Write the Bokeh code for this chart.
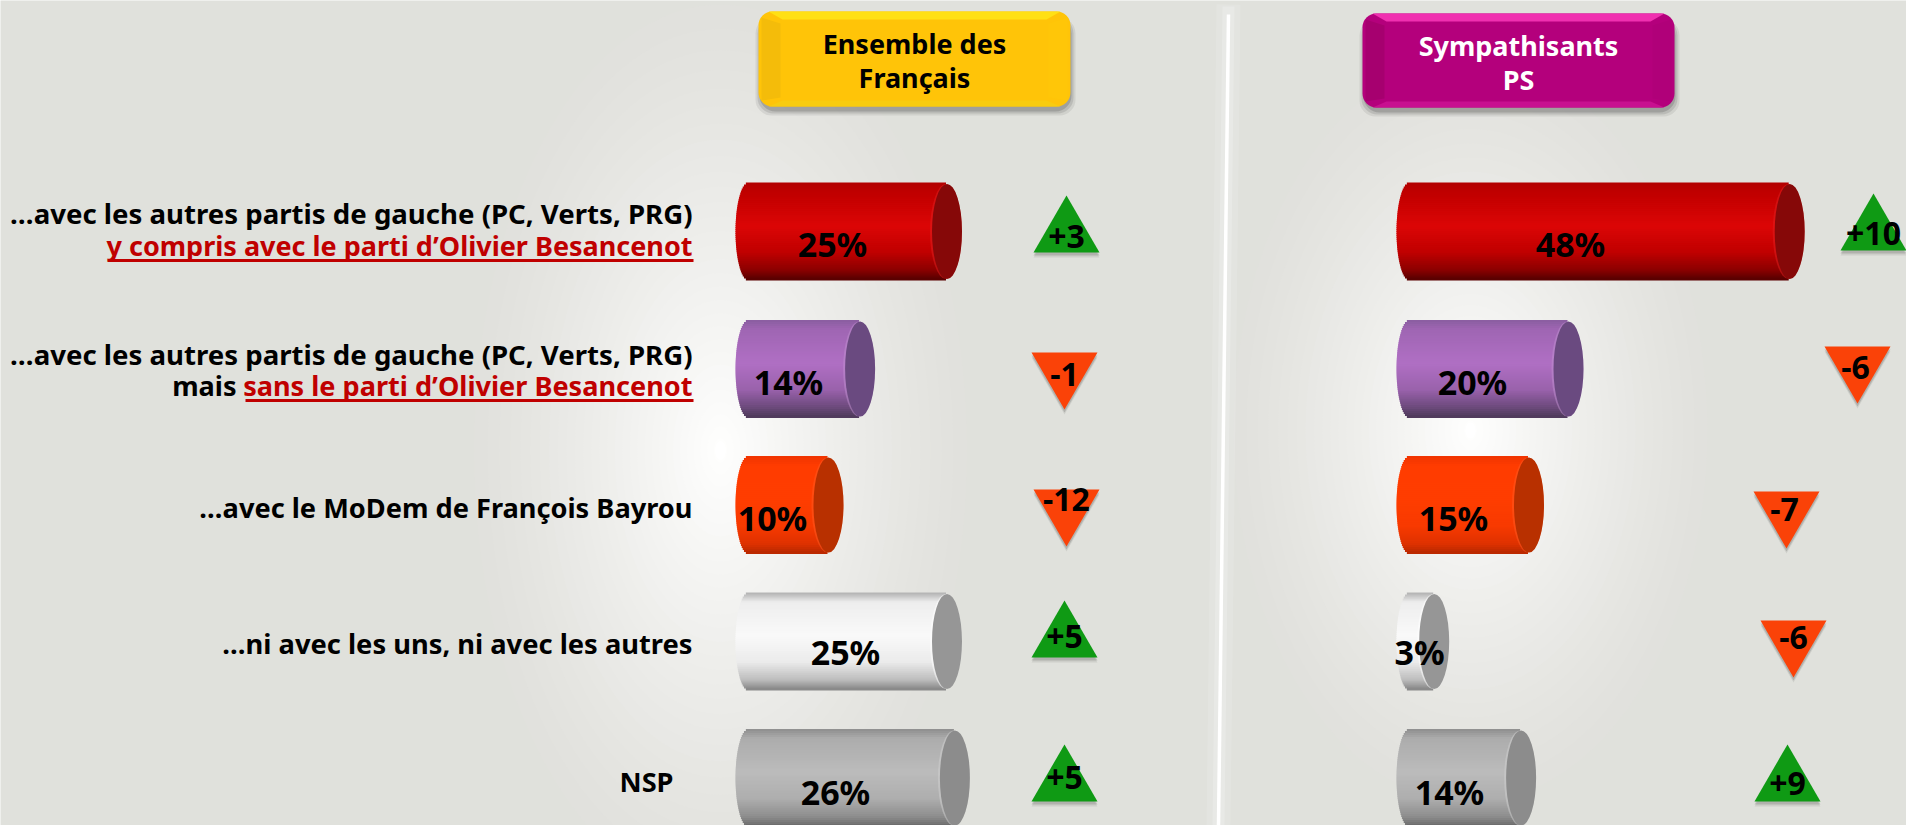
import numpy as np
from bokeh.plotting import figure
from bokeh.models import Range1d, ColumnDataSource
from bokeh.core.properties import value
from bokeh.embed import file_html
from bokeh.resources import INLINE

# ---- data
panels = ["Ensemble des Français", "Sympathisants PS"]
ensemble = [25, 14, 10, 25, 26]
sympathisants = [48, 20, 15, 3, 14]
delta_ensemble = [3, -1, -12, 5, 5]
delta_sympathisants = [10, -6, -7, -6, 9]

# ---- layout (px)
W, H = 1906, 825
K = 7.9
ORIGIN = [748, 1409]
ROW_Y = [231, 368.5, 504.5, 641, 777.5]
BAR_H = 97
LBL_X = [[832, 788, 772, 845, 835], [1570, 1472, 1453, 1419, 1449]]
LBL_Y = [243, 381, 517, 651, 791]
TRI_X = [[1066, 1064, 1066, 1064, 1064], [1873, 1857, 1786, 1793, 1787]]
TRI_Y = [[233, 371, 508, 638, 782], [231, 365, 510, 639, 782]]
DEL_X = [[1066, 1064, 1066, 1064, 1064], [1873, 1855, 1784, 1793, 1787]]
DEL_Y = [[236, 374, 499, 636, 777], [233, 367, 509, 637, 783]]
TRI_SIZE = 66

PAL = [
    (["#b20000", "#c00000", "#dc0606", "#c00000", "#8c0000", "#560000"], "#860808", "#e02020"),
    (["#8a5ea0", "#a066b4", "#b070c4", "#9a62ac", "#6c4a7c", "#4e3a5a"], "#6a4a80", "#c090d0"),
    (["#f03400", "#ff3c00", "#ff3e00", "#f83a00", "#e03200", "#b82800"], "#b83000", "#ff5a20"),
    (["#b0b0b0", "#eeeeee", "#fafafa", "#ebebeb", "#bdbdbd", "#858585"], "#969696", "#ffffff"),
    (["#8e8e8e", "#adadad", "#bcbcbc", "#aeaeae", "#8e8e8e", "#6a6a6a"], "#8c8c8c", "#d0d0d0"),
]
STOPS = [0, 0.1, 0.45, 0.72, 0.9, 1]

p = figure(width=W, height=H, output_backend="svg", toolbar_location=None,
           x_range=Range1d(0, W), y_range=Range1d(H, 0),
           x_axis_location=None, y_axis_location=None, min_border=0,
           outline_line_color=None, background_fill_color="#e0e1dc",
           border_fill_color="#e0e1dc")
p.grid.visible = False
for i, o in enumerate(ORIGIN):
    p.extra_x_ranges[f"pct{i}"] = Range1d(-o / K, (W - o) / K)

# ---- background glow: nested opaque ellipses, one grey level apart
GLOW_STEPS = 31
for cx, cy, sx, sy in [(720, 450, 265, 480), (1470, 430, 255, 400)]:
    for i in range(1, GLOW_STEPS + 1):
        f = i / GLOW_STEPS
        s = 1 - f ** (1 / 1.3)
        if s <= 0:
            s = 0.02
        col = "#%02x%02x%02x" % (int(224 + 31 * f), int(225 + 30 * f), int(220 + 35 * f))
        p.ellipse(x=[cx], y=[cy], width=[2 * sx * s], height=[2 * sy * s],
                  fill_color=col, line_color=None)

# ---- divider
p.line([1228, 1218], [4, H], line_color="#ffffff", line_width=24, line_alpha=0.12)
p.line([1228, 1218], [6, H], line_color="#ffffff", line_width=12, line_alpha=0.2)
p.line([1228, 1218], [14, H], line_color="#ffffff", line_width=3.5)

# ---- header buttons


def button(l, r, t, b, top_c, bot_c, left_c, right_c, face, txt, txtc):
    for grow, alpha in [(4, 0.07), (2, 0.1), (0, 0.14)]:
        p.quad(left=l + 1 - grow, right=r + 1 + grow, top=t + 6, bottom=b + 5 + grow,
               fill_color="#000000", fill_alpha=alpha, line_color=None, border_radius=16)
    p.quad(left=l, right=r, top=t, bottom=b, fill_color=face, line_color=None, border_radius=14)
    p.patch([l + 22, l + 3, l + 3, l + 22], [t + 12, t + 6, b - 6, b - 9], fill_color=left_c, line_color=None)
    p.patch([r - 22, r - 3, r - 3, r - 22], [t + 12, t + 6, b - 6, b - 9], fill_color=right_c, line_color=None)
    p.patch([l + 10, r - 10, r - 24, l + 24], [t, t, t + 8, t + 8], fill_color=top_c, line_color=None)
    p.patch([l + 10, r - 10, r - 24, l + 24], [b, b, b - 6, b - 6], fill_color=bot_c, line_color=None)
    p.text(x=[(l + r) / 2] * 2, y=[t + 32, t + 66], text=txt, text_color=txtc,
           text_font=value("Noto Sans"), text_font_style="bold", text_font_size="27px",
           text_align="center", text_baseline="middle")


button(758, 1070, 11, 106, "#ffe014", "#f8cc10", "#f4bc0a", "#ffc608", "#ffc408",
       ["Ensemble des", "Français"], "#000000")
button(1362, 1674, 13, 107, "#f030b0", "#c81090", "#a6006f", "#b00079", "#b4007c",
       ["Sympathisants", "PS"], "#ffffff")

# ---- cylinders


def rgb(h):
    return np.array([int(h[i:i + 2], 16) for i in (1, 3, 5)], dtype=float)


N = 48
for pi, vals in enumerate([ensemble, sympathisants]):
    rng = f"pct{pi}"
    ys, lefts, rights, cols = [], [], [], []
    cap_x, cap_y, cap_c, rim_c = [], [], [], []
    for r, v in enumerate(vals):
        stops, cap, rim = PAL[r]
        arr = np.array([rgb(s) for s in stops])
        for n in range(N):
            u = (n + 0.5) / N
            t = 2 * u - 1
            c = [np.interp(u, STOPS, arr[:, k]) for k in range(3)]
            cols.append("#%02x%02x%02x" % tuple(int(x) for x in c))
            ys.append(ROW_Y[r] - BAR_H / 2 + u * BAR_H)
            lefts.append((-13 + 13 * (1 - np.sqrt(1 - t * t))) / K)
            rights.append(v)
        cap_x.append(v); cap_y.append(ROW_Y[r]); cap_c.append(cap); rim_c.append(rim)
    src = ColumnDataSource(dict(y=ys, left=lefts, right=rights, color=cols))
    p.hbar(y="y", left="left", right="right", height=BAR_H / N + 1, source=src,
           fill_color="color", line_color=None, x_range_name=rng)
    capsrc = ColumnDataSource(dict(x=cap_x, y=cap_y, c=cap_c, rim=rim_c))
    p.ellipse(x="x", y="y", width=32, height=BAR_H - 2, width_units="screen",
              height_units="screen", fill_color="rim", fill_alpha=0.5, line_color=None,
              source=capsrc, x_range_name=rng)
    capsrc2 = ColumnDataSource(dict(x=[x + 1 / K for x in cap_x], y=cap_y, c=cap_c))
    p.ellipse(x="x", y="y", width=30, height=BAR_H - 2, width_units="screen",
              height_units="screen", fill_color="c", line_color=None,
              source=capsrc2, x_range_name=rng)
    p.text(x=LBL_X[pi], y=LBL_Y, text=[f"{v}%" for v in vals], text_color="#000000",
           text_font=value("Noto Sans"), text_font_style="bold", text_font_size="34px",
           text_align="center", text_baseline="middle")

# ---- evolution triangles
for pi, deltas in enumerate([delta_ensemble, delta_sympathisants]):
    for up, col, marker in [(True, "#0f9a14", "triangle"), (False, "#fa4208", "inverted_triangle")]:
        idx = [i for i, d in enumerate(deltas) if (d > 0) == up]
        xs = [TRI_X[pi][i] for i in idx]
        ys = [TRI_Y[pi][i] for i in idx]
        for dy, alpha in [(5, 0.08), (3, 0.14)]:
            p.scatter(xs, [y + dy for y in ys], marker=marker, size=TRI_SIZE, fill_color="#000000",
                      fill_alpha=alpha, line_color=None)
        p.scatter(xs, ys, marker=marker, size=TRI_SIZE, fill_color=col, line_color=None)
    p.text(x=DEL_X[pi], y=DEL_Y[pi], text=[f"{d:+d}" for d in deltas], text_color="#000000",
           text_font=value("Noto Sans"), text_font_style="bold", text_font_size="32px",
           text_align="center", text_baseline="middle")

# ---- row labels
BLACK, RED = "#000000", "#c00000"
line_text = ["…avec les autres partis de gauche (PC, Verts, PRG)",
             "y compris avec le parti d’Olivier Besancenot",
             "…avec les autres partis de gauche (PC, Verts, PRG)",
             "sans le parti d’Olivier Besancenot",
             "mais",
             "…avec le MoDem de François Bayrou",
             "…ni avec les uns, ni avec les autres",
             "NSP"]
line_x = [692, 692, 692, 692, 236, 692, 692, 673]
line_y = [212, 245, 353, 385, 385, 507, 643, 781]
line_c = [BLACK, RED, BLACK, RED, BLACK, BLACK, BLACK, BLACK]
line_s = ["27.6px", "27px", "27.6px", "27.1px", "27.1px", "27.2px", "27.3px", "27.2px"]
p.text(x=line_x, y=line_y, text=line_text, text_color=line_c, text_font_size=line_s,
       text_font=value("Noto Sans"), text_font_style="bold",
       text_align="right", text_baseline="middle")
p.segment(x0=[108, 245], x1=[693, 693], y0=[260, 400], y1=[260, 400], line_color=RED, line_width=3)

open("out.html", "w").write(file_html(p, INLINE))
